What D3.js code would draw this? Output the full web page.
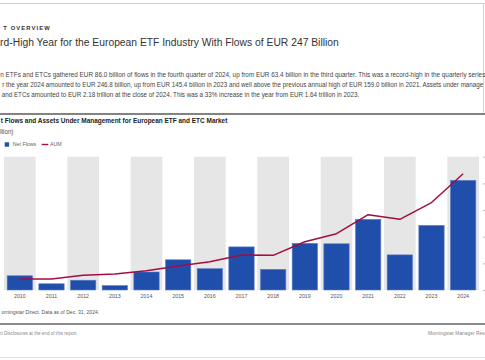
<!DOCTYPE html>
<html>
<head>
<meta charset="utf-8">
<script src="https://cdn.jsdelivr.net/npm/d3@7"></script>
<style>
  html, body { margin: 0; padding: 0; background: #fff; overflow: hidden; }
  svg { display: block; }
  text { font-family: "Liberation Sans Narrow", "Arial Narrow", "Liberation Sans", Arial, sans-serif; }
</style>
</head>
<body>
<svg id="chart" width="485" height="360"></svg>
<script>
// ---- data ----
const years = ["2010","2011","2012","2013","2014","2015","2016","2017","2018","2019","2020","2021","2022","2023","2024"];
const netFlows = [32, 14, 22, 10, 40.5, 68, 48, 97, 46.5, 105, 104, 159, 79, 145.4, 246.8];
const aum = [205, 208, 275, 300, 362, 450, 531, 656, 650, 906, 1056, 1412, 1325, 1640, 2180];
const aumTicks = [0, 500, 1000, 1500, 2000, 2500];
const seriesNames = ["Net Flows", "AUM"];

const headerLabel = "MARKET OVERVIEW";
const pageTitle = "Record-High Year for the European ETF Industry With Flows of EUR 247 Billion";
const bodyLines = [
  "European ETFs and ETCs gathered EUR 86.0 billion of flows in the fourth quarter of 2024, up from EUR 63.4 billion in the third quarter. This was a record-high in the quarterly series.",
  "Net flows for the year 2024 amounted to EUR 246.8 billion, up from EUR 145.4 billion in 2023 and well above the previous annual high of EUR 159.0 billion in 2021. Assets under management of European",
  "ETFs and ETCs amounted to EUR 2.18 trillion at the close of 2024. This was a 33% increase in the year from EUR 1.64 trillion in 2023."
];
const chartTitle = "Net Flows and Assets Under Management for European ETF and ETC Market";
const unitLabel = "(EUR Billion)";
const sourceText = "Source: Morningstar Direct. Data as of Dec. 31, 2024.";
const disclosureText = "Please see Important Disclosures at the end of this report.";
const footerRight = "Morningstar Manager Research";

const W = 485;
const svg = d3.select("#chart");
const FONT = '"Liberation Sans Narrow", "Arial Narrow", "Liberation Sans", Arial, sans-serif';

// Place a line of a cropped page: marker m1 starts at x1, marker m2 starts (or text ends) at x2.
// The font is condensed horizontally to fit; only the part inside the page crop is kept.
function fitText(str, size, m1, x1, m2, x2, y, attrs) {
  const t = svg.append("text").text(str).attr("font-size", size);
  Object.entries(attrs || {}).forEach(([k, v]) => t.attr(k, v));
  const node = t.node();
  const i1 = str.indexOf(m1);
  const i2 = m2 === null ? str.length : str.indexOf(m2);
  const seg = node.getSubStringLength(i1, i2 - i1);
  const pre = i1 > 0 ? node.getSubStringLength(0, i1) : 0;
  const k = (x2 - x1) / seg;
  const tx = x1 - pre * k;
  // find visible character range
  const n = str.length;
  let a = 0, b = n - 1;
  for (let i = 0; i < n; i++) {
    if (node.getStartPositionOfChar(i).x * k + tx >= -1.2) { a = i; break; }
  }
  for (let i = n - 1; i >= 0; i--) {
    if (node.getEndPositionOfChar(i).x * k + tx <= W + 1.2) { b = i; break; }
  }
  const startLocal = node.getStartPositionOfChar(a).x;
  const frag = str.slice(a, b + 1).replace(/^\s+/, "");
  const lead = str.slice(a, b + 1).length - frag.length;
  const startLocal2 = node.getStartPositionOfChar(a + lead).x;
  t.text(frag).attr("x", 0).attr("y", 0)
    .attr("transform", `translate(${tx + startLocal2 * k},${y}) scale(${k},1)`);
  return t;
}

// ---- page frame ----
svg.append("line").attr("x1", 0).attr("x2", W).attr("y1", 3.5).attr("y2", 3.5)
  .attr("stroke", "#cfcfcf").attr("stroke-width", 1);
svg.append("line").attr("x1", 483.5).attr("x2", 483.5).attr("y1", 3.5).attr("y2", 113)
  .attr("stroke", "#d5d5d5").attr("stroke-width", 1);

fitText(headerLabel, 5.6, "OVERVIEW", 10.7, null, 51, 30,
  { fill: "#333", "font-weight": "bold", "letter-spacing": 1.1 });

fitText(pageTitle, 11, "High Year", 12.7, null, 339, 45.5, { fill: "#333" });

fitText(bodyLines[0], 6.7, "n ETFs", 0.3, "from EUR 63.4", 241.5, 76.5, { fill: "#444" });
fitText(bodyLines[1], 6.7, "the year 2024", 6, "well above", 241, 86.5, { fill: "#444" });
fitText(bodyLines[2], 6.7, "and ETCs", 1.7, "in the year", 244.5, 96.5, { fill: "#444" });

svg.append("line").attr("x1", 0).attr("x2", W).attr("y1", 114).attr("y2", 114)
  .attr("stroke", "#5a5a5a").attr("stroke-width", 1.3);

fitText(chartTitle, 6.8, "Flows", 4.7, null, 227.7, 123, { fill: "#222", "font-weight": "bold" });
fitText(unitLabel, 6.6, "llion", 0.3, null, 13.5, 133.5, { fill: "#555" });

// ---- legend ----
const legend = svg.append("g");
legend.append("rect").attr("x", 4.7).attr("y", 142.3).attr("width", 4.4).attr("height", 4.4).attr("fill", "#1f4fab");
legend.append("text").attr("x", 12.7).attr("y", 146.3).attr("font-size", 5.3).attr("fill", "#666").text(seriesNames[0]);
legend.append("line").attr("x1", 41.7).attr("x2", 48.3).attr("y1", 144.5).attr("y2", 144.5)
  .attr("stroke", "#a50c42").attr("stroke-width", 1.4);
legend.append("text").attr("x", 50).attr("y", 146.3).attr("font-size", 5.3).attr("fill", "#666").text(seriesNames[1]);

// ---- scales ----
const x = d3.scaleBand().domain(years).range([4, 479]).paddingInner(0.2).paddingOuter(0.1);
const step = x.step();
const yL = d3.scaleLinear().domain([0, 300]).range([290, 156.7]);
const yR = d3.scaleLinear().domain([0, 2500]).range([290, 156.7]);

// alternating bands
svg.append("g").selectAll("rect").data(years.filter((d, i) => i % 2 === 0)).join("rect")
  .attr("x", d => x(d) - step * 0.1)
  .attr("width", step)
  .attr("y", yL(300))
  .attr("height", yL(0) - yL(300))
  .attr("fill", "#e6e6e6");

// bars
svg.append("g").selectAll("rect").data(years).join("rect")
  .attr("x", d => x(d))
  .attr("width", x.bandwidth())
  .attr("y", (d, i) => yL(netFlows[i]))
  .attr("height", (d, i) => yL(0) - yL(netFlows[i]))
  .attr("fill", "#1f4fab")
  .attr("stroke", "#5a7cc6").attr("stroke-width", 0.6);

// AUM line
const line = d3.line().x((d, i) => x(years[i]) + x.bandwidth() / 2).y(d => yR(d));
svg.append("path").datum(aum).attr("d", line)
  .attr("fill", "none").attr("stroke", "#a50c42").attr("stroke-width", 1.5)
  .attr("stroke-linejoin", "round");

// x axis
const xAxis = svg.append("g").attr("transform", "translate(0,290)")
  .call(d3.axisBottom(x).tickSize(0).tickPadding(4));
xAxis.select(".domain").remove();
xAxis.selectAll("text").attr("font-size", 5.3).attr("fill", "#555").style("font-family", FONT);

// right axis (AUM): only the tick marks fall inside the crop
const rAxis = svg.append("g").attr("transform", "translate(483,0)")
  .call(d3.axisRight(yR).tickValues(aumTicks).tickSize(3));
rAxis.select(".domain").remove();
rAxis.selectAll("text").remove();
rAxis.selectAll("line").attr("stroke", "#bbb");

// ---- footer ----
fitText(sourceText, 5.6, "orningstar", 1.5, null, 99.3, 314, { fill: "#555" });
svg.append("line").attr("x1", 0).attr("x2", W).attr("y1", 324).attr("y2", 324)
  .attr("stroke", "#666").attr("stroke-width", 1.3);
fitText(disclosureText, 4.7, "Disclosures", 4, null, 77.7, 334.5, { fill: "#888" });
fitText(footerRight, 4.7, "Manager", 455.3, "Research", 476, 334.5, { fill: "#888" });
svg.append("line").attr("x1", 0).attr("x2", W).attr("y1", 357.5).attr("y2", 357.5)
  .attr("stroke", "#e0e0e0").attr("stroke-width", 1);
</script>
</body>
</html>
